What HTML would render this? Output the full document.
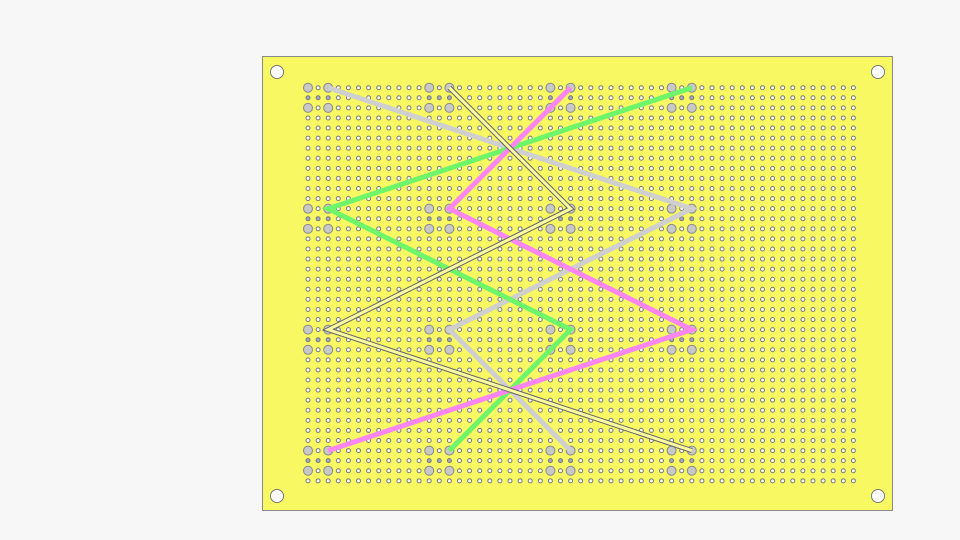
<!DOCTYPE html>
<html><head><meta charset="utf-8"><style>
html,body{margin:0;padding:0;background:#f7f7f7;width:960px;height:540px;overflow:hidden;font-family:"Liberation Sans",sans-serif}
</style></head><body>
<svg id="s" width="960" height="540" viewBox="0 0 960 540" xmlns="http://www.w3.org/2000/svg">
<rect x="262.5" y="56.5" width="630" height="454" fill="#f8f862" stroke="#8a8a8a" stroke-width="1"/>
<g id="holes"></g><g id="pads"></g><g id="wires"></g>
</svg>
<script>
const NS="http://www.w3.org/2000/svg";
const cols=55, rows=40;
const padCols=[0,2,12,14,24,26,36,38];
const padRows=[0,2,12,14,24,26,36,38];
const wireNames=["gray-wire","green-wire","pink-wire","yellow-wire"];
const wireCols=[[2,38,14,26],[38,2,26,14],[26,14,38,2],[14,26,2,38]];
const wireRows=[[0,12,24,36],[0,12,24,36],[0,12,24,36],[0,12,24,36]];
const wireColors=["#cfcfcf","#6ef56a","#fb86f2","#fbfba0"];
const X=c=>308+c*10.1, Y=r=>87.7+r*10.08;
const s=document.getElementById('s');
function el(t,a,p){const e=document.createElementNS(NS,t);for(const k in a)e.setAttribute(k,a[k]);p.appendChild(e);return e;}
[[277,72],[878,72],[277,496],[878,496]].forEach((p,i)=>{
 const c=el('circle',{cx:p[0],cy:p[1],r:6.5,fill:'#fff',stroke:'#777','stroke-width':1},s);
 
 
});
const hg=document.getElementById('holes');
const pg=document.getElementById('pads');
for(let r=0;r<rows;r++)for(let c=0;c<cols;c++){
 const isPad=padRows.includes(r)&&padCols.includes(c);
 if(isPad){
  const e=el('circle',{cx:X(c),cy:Y(r),r:4.5,fill:'#c8c8c8',stroke:'#8a8a8a','stroke-width':1},pg);
  
  
 } else {
  const mid=[1,13,25,37].includes(r)&&[0,1,2,12,13,14,24,25,26,36,37,38].includes(c);
  const e=el('circle',{cx:X(c),cy:Y(r),r:2,fill:mid?'#a0a8c8':'#f8f8f0',stroke:'#7a7a7a','stroke-width':1},hg);
  
  
 }
}
const wg=document.getElementById('wires');
wireCols.forEach((wc,i)=>{
 const pts=wc.map((c,j)=>X(c)+','+Y(wireRows[i][j])).join(' ');
 if(i===3){
  const o=el('polyline',{points:pts,fill:'none',stroke:'#666','stroke-width':5,'stroke-linejoin':'miter'},wg);
  
  
  const w=el('polyline',{points:pts,fill:'none',stroke:wireColors[i],'stroke-width':3,'stroke-linejoin':'miter'},wg);
  
  
 } else {
  const w=el('polyline',{points:pts,fill:'none',stroke:wireColors[i],'stroke-width':5,'stroke-linejoin':'miter'},wg);
  
  
 }
});
</script>
</body></html>
